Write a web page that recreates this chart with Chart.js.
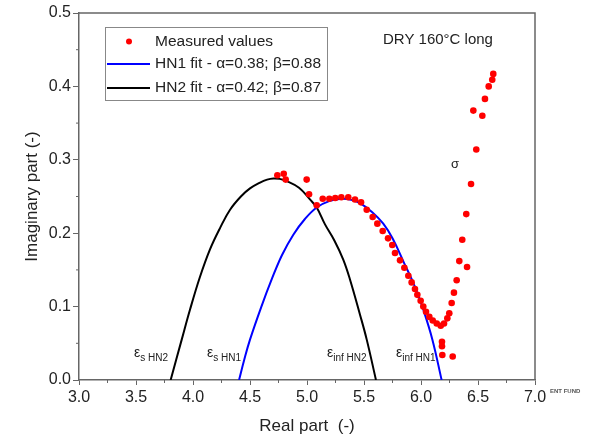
<!DOCTYPE html>
<html>
<head>
<meta charset="utf-8">
<script src="https://cdn.jsdelivr.net/npm/chart.js@4.4.0/dist/chart.umd.min.js"></script>
<style>
  html, body { margin: 0; padding: 0; background: #fff; }
</style>
</head>
<body>
<canvas id="chart" width="611" height="439"></canvas>
<script>
// ── Data ────────────────────────────────────────────────────────────
const measuredX = [4.740, 4.796, 4.813, 4.997, 5.018, 5.085, 5.138, 5.196, 5.248, 5.301,
                   5.362, 5.421, 5.474, 5.524, 5.576, 5.617, 5.664, 5.711, 5.748, 5.772,
                   5.816, 5.854, 5.889, 5.918, 5.947, 5.968, 5.997, 6.020, 6.044, 6.073,
                   6.103, 6.138, 6.173, 6.202, 6.231, 6.248, 6.269, 6.289, 6.313, 6.336,
                   6.404, 6.362, 6.397, 6.439, 6.485, 6.459, 6.538, 6.561, 6.594, 6.625,
                   6.634, 6.184, 6.184, 6.187, 6.278];
const measuredY = [0.279, 0.281, 0.273, 0.273, 0.253, 0.238, 0.247, 0.247, 0.248, 0.249,
                   0.249, 0.246, 0.242, 0.232, 0.222, 0.213, 0.203, 0.193, 0.184, 0.173,
                   0.163, 0.153, 0.142, 0.133, 0.124, 0.116, 0.108, 0.100, 0.093, 0.086,
                   0.081, 0.077, 0.074, 0.077, 0.084, 0.091, 0.105, 0.119, 0.136, 0.162,
                   0.154, 0.191, 0.226, 0.267, 0.314, 0.367, 0.360, 0.383, 0.400, 0.409,
                   0.417, 0.052, 0.046, 0.034, 0.032];

const hn1X = [4.404, 4.45, 4.50, 4.60, 4.69, 4.78, 4.88, 4.98, 5.085, 5.20, 5.304, 5.40,
              5.465, 5.57, 5.669, 5.75, 5.85, 5.947, 6.02, 6.10, 6.181];
const hn1Y = [0.000, 0.028, 0.055, 0.100, 0.137, 0.170, 0.198, 0.219, 0.235, 0.244, 0.247, 0.245,
              0.241, 0.229, 0.213, 0.193, 0.160, 0.127, 0.096, 0.055, 0.000];

const hn2X = [3.804, 3.901, 3.974, 4.06, 4.149, 4.24, 4.325, 4.42, 4.50, 4.588, 4.65, 4.705,
              4.76, 4.822, 4.93, 5.026, 5.085, 5.158, 5.24, 5.318, 5.377, 5.465, 5.524, 5.605];
const hn2Y = [0.000, 0.055, 0.096, 0.140, 0.178, 0.208, 0.232, 0.250, 0.261, 0.269, 0.273, 0.2746,
              0.274, 0.271, 0.262, 0.246, 0.235, 0.212, 0.190, 0.164, 0.137, 0.089, 0.055, 0.000];

const xTicks = [3.0, 3.5, 4.0, 4.5, 5.0, 5.5, 6.0, 6.5, 7.0];
const yTicks = [0.0, 0.1, 0.2, 0.3, 0.4, 0.5];
const xMinor = [3.25, 3.75, 4.25, 4.75, 5.25, 5.75, 6.25, 6.75];
const yMinor = [0.05, 0.15, 0.25, 0.35, 0.45];

const seriesLabels = ['Measured values', 'HN1 fit - \u03b1=0.38; \u03b2=0.88', 'HN2 fit - \u03b1=0.42; \u03b2=0.87'];
const seriesColors = ['#ff0000', '#0000ff', '#000000'];

const pts = (xs, ys) => xs.map((x, i) => ({ x, y: ys[i] }));

const FONT = '"Liberation Sans", Arial, sans-serif';
const AXIS = '#666';

// ── Overlay: frame, minor ticks, legend, labels ─────────────────────
const overlay = {
  id: 'overlay',
  afterDraw(chart) {
    const { ctx, chartArea: a, scales: { x, y } } = chart;
    ctx.save();

    // top/right frame
    ctx.strokeStyle = AXIS;
    ctx.lineWidth = 1.5;
    ctx.beginPath();
    ctx.moveTo(a.left, a.top); ctx.lineTo(a.right, a.top); ctx.lineTo(a.right, a.bottom);
    ctx.stroke();

    // minor ticks
    ctx.lineWidth = 1;
    ctx.beginPath();
    xMinor.forEach(v => { const p = x.getPixelForValue(v); ctx.moveTo(p, a.bottom); ctx.lineTo(p, a.bottom + 3); });
    yMinor.forEach(v => { const p = y.getPixelForValue(v); ctx.moveTo(a.left, p); ctx.lineTo(a.left - 3, p); });
    ctx.stroke();

    ctx.fillStyle = '#222';
    ctx.textBaseline = 'middle';

    // axis titles
    ctx.font = '17px ' + FONT;
    ctx.textAlign = 'center';
    ctx.fillText('Real part  (-)', (a.left + a.right) / 2, 426);
    ctx.save();
    ctx.translate(32, (a.top + a.bottom) / 2);
    ctx.rotate(-Math.PI / 2);
    ctx.fillText('Imaginary part (-)', 0, 0);
    ctx.restore();

    // legend box
    ctx.strokeStyle = '#888';
    ctx.lineWidth = 1;
    ctx.strokeRect(105.5, 27.5, 222, 73);
    ctx.font = '15.5px ' + FONT;
    ctx.textAlign = 'left';
    const rows = [41.5, 64, 88];
    ctx.fillStyle = seriesColors[0];
    ctx.beginPath(); ctx.arc(129, rows[0], 3, 0, Math.PI * 2); ctx.fill();
    [1, 2].forEach(i => {
      ctx.strokeStyle = seriesColors[i];
      ctx.lineWidth = 2;
      ctx.beginPath(); ctx.moveTo(107, rows[i]); ctx.lineTo(150, rows[i]); ctx.stroke();
    });
    ctx.fillStyle = '#222';
    seriesLabels.forEach((t, i) => ctx.fillText(t, 155, rows[i]));

    // condition note
    ctx.font = '15px ' + FONT;
    ctx.fillText('DRY 160\u00b0C long', 383, 40);

    // epsilon markers
    const eps = [['s HN2', 134], ['s HN1', 207], ['inf HN2', 327], ['inf HN1', 396]];
    eps.forEach(([sub, px]) => {
      ctx.font = '14px ' + FONT;
      ctx.fillText('\u03b5', px, 353);
      const w = ctx.measureText('\u03b5').width;
      ctx.font = '10px ' + FONT;
      ctx.fillText(sub, px + w, 358);
    });

    // sigma
    ctx.font = '13px ' + FONT;
    ctx.fillText('\u03c3', 451, 164);

    // small artefact text
    ctx.font = 'bold 6px ' + FONT;
    ctx.fillStyle = '#555';
    ctx.fillText('ENT FUND', 550, 391);

    ctx.restore();
  }
};

new Chart(document.getElementById('chart'), {
  type: 'scatter',
  data: {
    datasets: [
      {
        label: seriesLabels[0], data: pts(measuredX, measuredY),
        backgroundColor: seriesColors[0], borderColor: seriesColors[0],
        pointRadius: 3.3, pointBorderWidth: 0, showLine: false, order: 0,
      },
      {
        label: seriesLabels[1], data: pts(hn1X, hn1Y),
        borderColor: seriesColors[1], borderWidth: 2, pointRadius: 0,
        showLine: true, tension: 0.4, order: 1,
      },
      {
        label: seriesLabels[2], data: pts(hn2X, hn2Y),
        borderColor: seriesColors[2], borderWidth: 2, pointRadius: 0,
        showLine: true, tension: 0.4, order: 2,
      },
    ]
  },
  options: {
    responsive: false, animation: false, devicePixelRatio: 1,
    layout: { padding: { top: 13, right: 76, left: 0, bottom: 0 } },
    plugins: { legend: { display: false }, tooltip: { enabled: false } },
    scales: {
      x: {
        type: 'linear', min: 3, max: 7,
        afterBuildTicks: s => { s.ticks = xTicks.map(v => ({ value: v })); },
        afterFit: s => { s.height = 59; },
        ticks: { callback: v => v.toFixed(1), font: { size: 16, family: FONT }, color: '#222', padding: 3, maxRotation: 0 },
        grid: { drawOnChartArea: false, drawTicks: true, tickLength: 5, color: AXIS, lineWidth: 1 },
        border: { color: AXIS, width: 1.5 },
      },
      y: {
        type: 'linear', min: 0, max: 0.5,
        afterBuildTicks: s => { s.ticks = yTicks.map(v => ({ value: v })); },
        afterFit: s => { s.width = 79; },
        ticks: { callback: v => v.toFixed(1), font: { size: 16, family: FONT }, color: '#222', padding: 2 },
        grid: { drawOnChartArea: false, drawTicks: true, tickLength: 6, color: AXIS, lineWidth: 1 },
        border: { color: AXIS, width: 1.5 },
      }
    }
  },
  plugins: [overlay]
});
</script>
</body>
</html>
